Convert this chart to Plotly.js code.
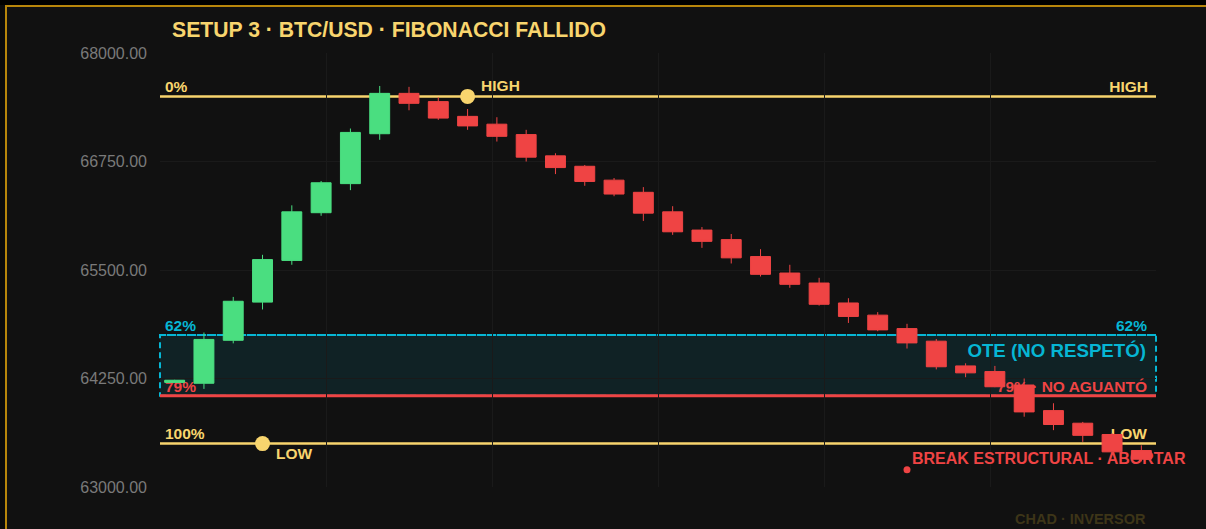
<!DOCTYPE html>
<html><head><meta charset="utf-8">
<script src="https://cdn.plot.ly/plotly-3.0.1.min.js"></script>
<style>
html,body{margin:0;padding:0;background:#0b0b0b;width:1206px;height:529px;overflow:hidden}
#topband{position:absolute;left:0;top:0;width:1206px;height:5px;background:#000}
#frame{position:absolute;left:5px;top:5px;width:1300px;height:600px;border-top:2px solid #b8860b;border-left:2px solid #b8860b;background:#111}
#chart{position:absolute;left:0;top:0;width:1206px;height:529px}
</style></head><body>
<div id="topband"></div><div id="frame"></div><div id="chart"></div>
<script>
// ---------- data ----------
const candleIndex = [0,1,2,3,4,5,6,7,8,9,10,11,12,13,14,15,16,17,18,19,20,21,22,23,24,25,26,27,28,29,30,31,32,33];
const openPrices  = [64205,64195,64690,65130,65610,66160,66495,67070,67535,67440,67270,67180,67060,66815,66695,66535,66395,66170,65960,65850,65655,65465,65350,65120,64980,64825,64680,64395,64330,64175,63880,63735,63605,63420];
const highPrices  = [64235,64780,65190,65675,66245,66525,67130,67620,67610,67490,67355,67260,67115,66845,66710,66560,66455,66235,65995,65915,65740,65560,65410,65175,65015,64880,64705,64425,64395,64250,63965,63750,63620,63480];
const lowPrices   = [64200,64130,64655,65045,65560,66125,66420,67000,67340,67230,67115,66980,66750,66605,66470,66350,66065,65905,65755,65575,65425,65295,65090,64890,64795,64595,64355,64265,64150,63810,63655,63520,63400,63295];
const closePrices = [64230,64700,65140,65620,66170,66505,67085,67535,67420,67250,67160,67040,66800,66680,66520,66375,66155,65940,65830,65640,65450,65335,65105,64965,64810,64660,64385,64315,64155,63865,63720,63595,63405,63320];
const yTickValues = [63000,64250,65500,66750,68000];
const fibLabels = ['0%','62%','79%','100%'];
const fibLevels = [67500,64750,64050,63500];
const pivotLabels = ['HIGH','LOW'];
const pivotIndex = [10,3];
const pivotPrice = [67500,63500];
const breakIndex = [25];
const breakPrice = [63200];
const titleText = 'SETUP 3 · BTC/USD · FIBONACCI FALLIDO';
const oteLabel = 'OTE (NO RESPETÓ)';
const failLabel = 'NO AGUANTÓ';
const breakLabel = 'BREAK ESTRUCTURAL · ABORTAR';
const watermarkText = 'CHAD · INVERSOR';

// ---------- geometry / style ----------
const W = 1206, H = 529;
const M = {l:160, r:50, t:53, b:42};
const X0 = -0.5, X1 = candleIndex.length - 0.5;
const Y0 = 63000, Y1 = 68000;
const kx = (W - M.l - M.r) / (X1 - X0);
const ky = (H - M.t - M.b) / (Y1 - Y0);
const FONT = 'Liberation Sans, Arial, Helvetica, sans-serif';
const YEL = '#f8d56e', CYAN = '#06b6d4', RED = '#ef4444', GREEN = '#4ade80';
const LF = 15.5;

function at(xd, dxPx, yd, dyPx, fs) {
  return {x: xd + dxPx / kx, y: yd - (dyPx + 0.108 * fs) / ky};
}
function textTrace(items, color) {
  return {
    type: 'scatter', mode: 'text', xaxis: 'x', yaxis: 'y', cliponaxis: false,
    x: items.map(d => d.p.x), y: items.map(d => d.p.y),
    text: items.map(d => '<b>' + d.t + '</b>'),
    textposition: items.map(d => d.pos),
    textfont: {family: FONT, color: color, size: items.map(d => d.fs)},
    hoverinfo: 'skip', showlegend: false
  };
}
const [L0, L62, L79, L100] = fibLevels;

const yellowItems = [
  {t: fibLabels[0], p: at(X0, 5, L0, -9.5, LF), pos: 'middle right', fs: LF},
  {t: pivotLabels[0], p: at(X1, -8, L0, -9.5, LF), pos: 'middle left', fs: LF},
  {t: pivotLabels[0], p: at(pivotIndex[0], 13.5, pivotPrice[0], -11, LF), pos: 'middle right', fs: LF},
  {t: fibLabels[3], p: at(X0, 5, L100, -10, LF), pos: 'middle right', fs: LF},
  {t: pivotLabels[1], p: at(X1, -9, L100, -10, LF), pos: 'middle left', fs: LF},
  {t: pivotLabels[1], p: at(pivotIndex[1], 13.5, pivotPrice[1], 10, LF), pos: 'middle right', fs: LF}
];
const cyanItems = [
  {t: fibLabels[1], p: at(X0, 5, L62, -9.5, LF), pos: 'middle right', fs: LF},
  {t: fibLabels[1], p: at(X1, -9, L62, -9.5, LF), pos: 'middle left', fs: LF},
  {t: oteLabel, p: at(X1, -10, L62, 15, 18.7), pos: 'middle left', fs: 18.7}
];
const redItems = [
  {t: fibLabels[2], p: at(X0, 5, L79, -9, LF), pos: 'middle right', fs: LF},
  {t: fibLabels[2] + ' · ' + failLabel, p: at(X1, -9, L79, -9, LF), pos: 'middle left', fs: LF},
  {t: breakLabel, p: at(breakIndex[0], 5, breakPrice[0], -11, 16), pos: 'middle right', fs: 16}
];

const traces = [
  textTrace(yellowItems, YEL),
  textTrace(cyanItems, CYAN),
  textTrace(redItems, RED),
  {
    type: 'candlestick', xaxis: 'x2', yaxis: 'y2',
    x: candleIndex, open: openPrices, high: highPrices, low: lowPrices, close: closePrices,
    increasing: {line: {color: GREEN, width: 1}, fillcolor: GREEN},
    decreasing: {line: {color: RED, width: 1}, fillcolor: RED},
    whiskerwidth: 0, hoverinfo: 'skip', showlegend: false
  },
  {
    type: 'scatter', mode: 'markers', xaxis: 'x2', yaxis: 'y2',
    x: pivotIndex, y: pivotPrice, marker: {size: 15, color: YEL},
    hoverinfo: 'skip', showlegend: false
  },
  {
    type: 'scatter', mode: 'markers', xaxis: 'x2', yaxis: 'y2', cliponaxis: false,
    x: breakIndex, y: breakPrice, marker: {size: 7, color: RED},
    hoverinfo: 'skip', showlegend: false
  }
];

const gridTicks = [1,2,3,4,5].map(k => X0 + k * (X1 - X0) / 6);
const GRID = '#1a1a1a';
const DASH = '6px,4px';

const layout = {
  width: W, height: H,
  margin: M,
  paper_bgcolor: 'rgba(0,0,0,0)', plot_bgcolor: 'rgba(0,0,0,0)',
  showlegend: false, hovermode: false, dragmode: false,
  boxgap: 0.32, boxgroupgap: 0,
  font: {family: FONT},
  title: {
    text: '<b>' + titleText + '</b>',
    font: {family: FONT, size: 21.2, color: YEL},
    xref: 'container', x: 172 / W, xanchor: 'left',
    yref: 'container', y: 1 - 30 / H, yanchor: 'middle'
  },
  xaxis: {
    range: [X0, X1], tickmode: 'array', tickvals: gridTicks, showticklabels: false,
    showgrid: true, gridcolor: GRID, gridwidth: 1, zeroline: false, showline: false, ticks: '',
    rangeslider: {visible: false}, fixedrange: true
  },
  yaxis: {
    range: [Y0, Y1], tickmode: 'array', tickvals: yTickValues, tickformat: '.2f',
    tickfont: {family: FONT, size: 16, color: '#7a7a7a'},
    showgrid: true, gridcolor: GRID, gridwidth: 1, zeroline: false, showline: false,
    ticks: '', ticklabelstandoff: 12, fixedrange: true
  },
  xaxis2: {overlaying: 'x', range: [X0, X1], visible: false, rangeslider: {visible: false}, fixedrange: true},
  yaxis2: {overlaying: 'y', range: [Y0, Y1], visible: false, fixedrange: true},
  shapes: [
    {type: 'rect', layer: 'below', xref: 'paper', yref: 'y', x0: 0, x1: 1, y0: L79, y1: L62,
     fillcolor: 'rgba(6,182,212,0.10)', line: {color: CYAN, width: 2, dash: DASH}},
    {type: 'line', layer: 'below', xref: 'paper', yref: 'y', x0: 0, x1: 1, y0: L62, y1: L62,
     line: {color: CYAN, width: 2, dash: DASH}},
    {type: 'line', layer: 'below', xref: 'paper', yref: 'y', x0: 0, x1: 1, y0: L79, y1: L79,
     line: {color: RED, width: 3}},
    {type: 'line', layer: 'below', xref: 'paper', yref: 'y', x0: 0, x1: 1, y0: L0, y1: L0,
     line: {color: YEL, width: 2.5}},
    {type: 'line', layer: 'below', xref: 'paper', yref: 'y', x0: 0, x1: 1, y0: L100, y1: L100,
     line: {color: YEL, width: 2.5}}
  ],
  annotations: [
    {text: '<b>' + watermarkText + '</b>', xref: 'paper', yref: 'paper', x: 1, y: 0,
     xanchor: 'right', yanchor: 'middle', xshift: -8, yshift: -32, showarrow: false,
     font: {family: FONT, size: 14.5, color: '#3d3518'}}
  ]
};

Plotly.newPlot('chart', traces, layout, {staticPlot: true, displayModeBar: false});
</script>
</body></html>
